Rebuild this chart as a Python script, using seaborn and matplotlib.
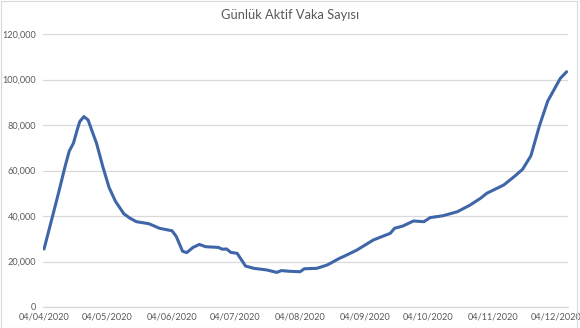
import matplotlib
matplotlib.use("Agg")
import matplotlib.pyplot as plt
import matplotlib.dates as mdates
from matplotlib.ticker import FuncFormatter
from matplotlib.patches import Rectangle
import seaborn as sns
import pandas as pd

dates = ["2020-04-04", "2020-04-08", "2020-04-11", "2020-04-14", "2020-04-16",
         "2020-04-18", "2020-04-20", "2020-04-21", "2020-04-23", "2020-04-25",
         "2020-04-27", "2020-04-29", "2020-05-02", "2020-05-05", "2020-05-08",
         "2020-05-12", "2020-05-15", "2020-05-18", "2020-05-24", "2020-05-29",
         "2020-06-04", "2020-06-06", "2020-06-09", "2020-06-11", "2020-06-14",
         "2020-06-17", "2020-06-20", "2020-06-26", "2020-06-28", "2020-06-30",
         "2020-07-02", "2020-07-05", "2020-07-09", "2020-07-13", "2020-07-19",
         "2020-07-24", "2020-07-26", "2020-07-30", "2020-08-04", "2020-08-06",
         "2020-08-12", "2020-08-17", "2020-08-23", "2020-08-25", "2020-08-31",
         "2020-09-08", "2020-09-16", "2020-09-18", "2020-09-22", "2020-09-27",
         "2020-10-02", "2020-10-05", "2020-10-11", "2020-10-18", "2020-10-24",
         "2020-10-29", "2020-11-01", "2020-11-09", "2020-11-14", "2020-11-18",
         "2020-11-22", "2020-11-26", "2020-11-30", "2020-12-03", "2020-12-06",
         "2020-12-09"]
active_cases = [25500, 39700, 50500, 61700, 68500,
                72000, 78500, 81500, 83700, 82200,
                77000, 72000, 61700, 52500, 46500,
                41000, 39000, 37500, 36600, 34600,
                33500, 31000, 24500, 23900, 26200,
                27500, 26500, 26200, 25400, 25500,
                24000, 23600, 18000, 17000, 16300,
                15200, 16000, 15700, 15500, 16800,
                17000, 18500, 21500, 22300, 25000,
                29500, 32400, 34600, 35600, 37800,
                37500, 39300, 40100, 41900, 44800,
                47800, 50000, 53600, 57300, 60500,
                66500, 79500, 90500, 95500, 100500,
                103400]
tick_dates = ["2020-04-04", "2020-05-04", "2020-06-04", "2020-07-04", "2020-08-04",
              "2020-09-04", "2020-10-04", "2020-11-04", "2020-12-04"]
y_ticks = [0, 20000, 40000, 60000, 80000, 100000, 120000]
title = "Günlük Aktif Vaka Sayısı"

df = pd.DataFrame({"Tarih": pd.to_datetime(dates), "Aktif": active_cases})

sns.set_theme(style="white")
plt.rcParams["font.family"] = ["Lato", "DejaVu Sans"]

fig = plt.figure(figsize=(5.8, 3.28), dpi=100)
ax = fig.add_axes([43 / 580, 1 - 307 / 328, (568 - 43) / 580, (307 - 34) / 328])

sns.lineplot(data=df, x="Tarih", y="Aktif", ax=ax, color="#3F66A8", linewidth=2.2)

ax.set_ylim(0, 120000)
ax.set_yticks(y_ticks)
ax.yaxis.set_major_formatter(FuncFormatter(lambda v, p: f"{int(v):,}"))
ax.set_xlim(pd.Timestamp("2020-04-03 12:00"), pd.Timestamp("2020-12-09 16:00"))
ax.set_xticks(pd.to_datetime(tick_dates))
ax.xaxis.set_major_formatter(mdates.DateFormatter("%d/%m/%Y"))
ax.grid(axis="y", color="#d9d9d9", linewidth=0.9)
ax.grid(axis="x", visible=False)
for s in ["top", "right", "left"]:
    ax.spines[s].set_visible(False)
ax.spines["bottom"].set_color("#d9d9d9")
ax.spines["bottom"].set_linewidth(0.9)
ax.tick_params(axis="both", length=0, labelsize=6.6, colors="#595959")
ax.tick_params(axis="y", pad=5)
ax.tick_params(axis="x", pad=4)
ax.set_xlabel("")
ax.set_ylabel("")

fig.text(0.5, 1 - 15 / 328, title, ha="center", va="center", fontsize=9.3, color="#595959")
fig.patches.append(Rectangle((0.001, 0.001), 0.993, 0.997, transform=fig.transFigure,
                             fill=False, edgecolor="#d9d9d9", linewidth=0.8))

fig.savefig("out.png", dpi=100)
